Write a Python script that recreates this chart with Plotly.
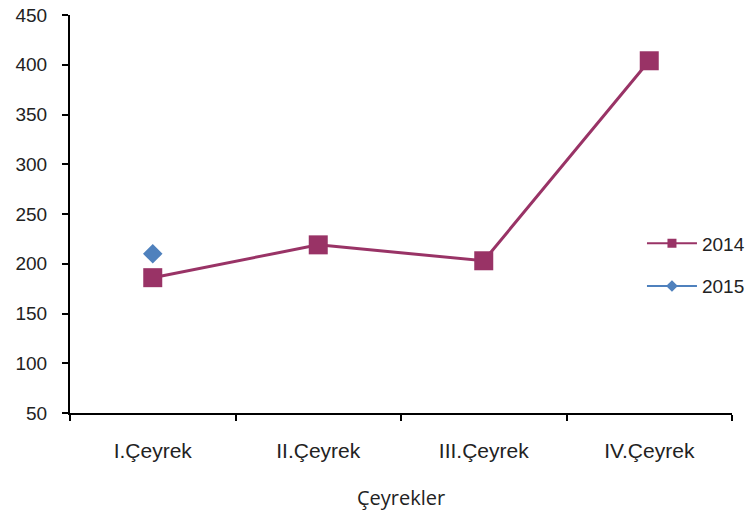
import plotly.graph_objects as go

categories = ["I.Çeyrek", "II.Çeyrek", "III.Çeyrek", "IV.Çeyrek"]
values_2014 = [186, 219, 203, 404]
values_2015 = [210, None, None, None]

c2014 = "#993366"
c2015 = "#4F81BD"
txtcol = "#222222"
arial = "Liberation Sans, Arial, sans-serif"

fig = go.Figure()
fig.add_trace(go.Scatter(x=categories, y=values_2014, mode="lines+markers", name="2014",
                         line=dict(color=c2014, width=3),
                         marker=dict(symbol="square", size=19, color=c2014),
                         showlegend=False))
fig.add_trace(go.Scatter(x=categories, y=values_2015, mode="lines+markers", name="2015",
                         line=dict(color=c2015, width=3),
                         marker=dict(symbol="diamond", size=15, color=c2015),
                         showlegend=False))
# legend entries
fig.add_trace(go.Scatter(x=[None], y=[None], mode="lines+markers", name="2014",
                         legendgroup="a",
                         line=dict(color=c2014, width=2),
                         marker=dict(symbol="square", size=9, color=c2014)))
fig.add_trace(go.Scatter(x=[None], y=[None], mode="lines+markers", name="2015",
                         legendgroup="b",
                         line=dict(color=c2015, width=2),
                         marker=dict(symbol="diamond", size=9, color=c2015)))

fig.update_layout(
    width=753, height=519,
    margin=dict(l=70, r=21, t=15, b=106, autoexpand=False),
    paper_bgcolor="white", plot_bgcolor="white",
    legend=dict(x=0.864, y=0.372, xanchor="left", yanchor="middle",
                font=dict(family=arial, size=19, color=txtcol),
                itemwidth=50, tracegroupgap=15, bgcolor="rgba(0,0,0,0)"),
    xaxis=dict(type="category", categoryorder="array", categoryarray=categories,
               range=[-0.5, 3.5], showline=True, linecolor="black", linewidth=2,
               ticks="outside", tickson="boundaries", ticklen=6, tickcolor="black", tickwidth=2,
               showgrid=False, tickfont=dict(family=arial, size=21, color=txtcol),
               ticklabelstandoff=18, automargin=False,
               title=dict(text="Çeyrekler", font=dict(family="Open Sans", size=20, color=txtcol),
                          standoff=30)),
    yaxis=dict(range=[50, 450], dtick=50, tick0=50, showline=True, linecolor="black", linewidth=2,
               ticks="outside", ticklen=6, tickcolor="black", tickwidth=2, showgrid=False,
               zeroline=False, tickfont=dict(family=arial, size=19, color=txtcol),
               ticklabelstandoff=11, automargin=False),
)

fig.write_html("out.html", config={"displayModeBar": False, "staticPlot": True},
               post_script="document.body.style.margin='0';document.body.style.overflow='hidden';")
